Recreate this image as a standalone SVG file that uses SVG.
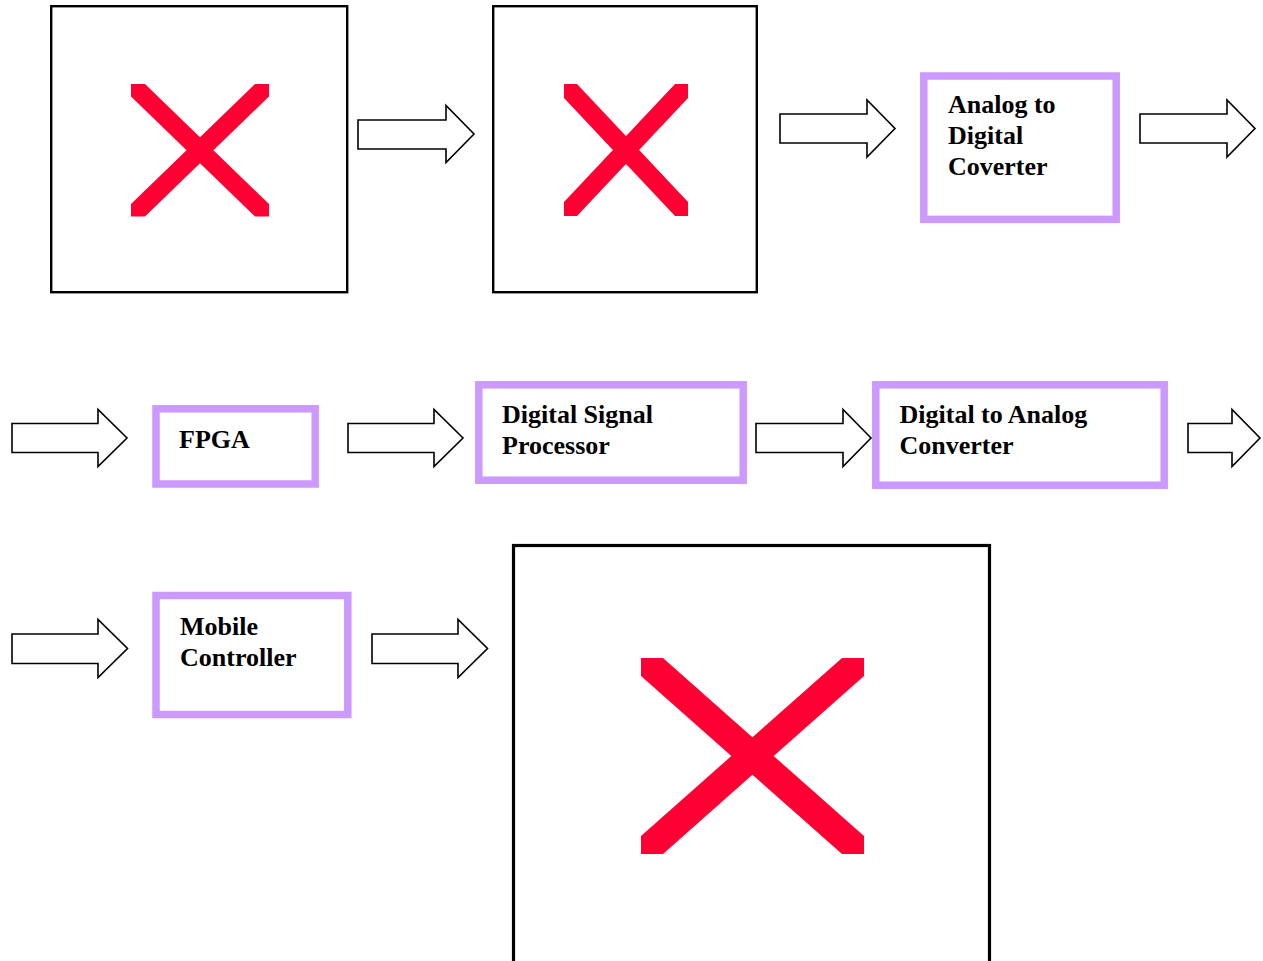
<svg xmlns="http://www.w3.org/2000/svg" width="1263" height="961" viewBox="0 0 1263 961">
<style>
  .img { fill: #ffffff; stroke: #000000; }
  .x { fill: #FF0033; }
  .blk { fill: #ffffff; stroke: #CC99FF; stroke-width: 7.5; }
  .lbl { font-family: "Liberation Serif", "Times New Roman", serif; font-weight: bold; font-size: 26px; fill: #000000; }
  .arr { fill: #ffffff; stroke: #000000; stroke-width: 1.6; stroke-linejoin: miter; }
</style>
<rect width="1263" height="961" fill="#ffffff"/>

<g id="image1">
  <rect class="img" x="51.2" y="6.2" width="296" height="286" stroke-width="2.4"/>
  <polygon class="x" points="131,84 145,84 269,204 269,216.5 255,216.5 131,96.5"/>
  <polygon class="x" points="269,84 269,96.5 145,216.5 131,216.5 131,204 255,84"/>
</g>

<g id="image2">
  <rect class="img" x="493.2" y="6.2" width="263.6" height="286" stroke-width="2.4"/>
  <polygon class="x" points="564,84 577,84 688,202 688,216 675,216 564,98"/>
  <polygon class="x" points="688,84 688,98 577,216 564,216 564,202 675,84"/>
</g>

<g id="adc">
  <rect class="blk" x="923.8" y="76" width="192.4" height="143.4"/>
  <text class="lbl" x="948" y="112.5">Analog to</text>
  <text class="lbl" x="948" y="143.5">Digital</text>
  <text class="lbl" x="948" y="174.5">Coverter</text>
</g>

<g id="fpga">
  <rect class="blk" x="156" y="408.8" width="159.2" height="75.2"/>
  <text class="lbl" x="179" y="448.3">FPGA</text>
</g>

<g id="dsp">
  <rect class="blk" x="478.8" y="384.8" width="264.4" height="95.4"/>
  <text class="lbl" x="502" y="422.5">Digital Signal</text>
  <text class="lbl" x="502" y="453.5">Processor</text>
</g>

<g id="dac">
  <rect class="blk" x="875.8" y="384.8" width="288.4" height="100.4"/>
  <text class="lbl" x="899.5" y="422.5">Digital to Analog</text>
  <text class="lbl" x="899.5" y="453.5">Converter</text>
</g>

<g id="mobile">
  <rect class="blk" x="156" y="595.5" width="191.8" height="119"/>
  <text class="lbl" x="180" y="634.5">Mobile</text>
  <text class="lbl" x="180" y="665.5">Controller</text>
</g>

<g id="image3">
  <rect class="img" x="513.5" y="545.5" width="476" height="430" stroke-width="3.2"/>
  <polygon class="x" points="641,658 663,658 864,836 864,854 842,854 641,676"/>
  <polygon class="x" points="864,658 864,676 663,854 641,854 641,836 842,658"/>
</g>

<g id="connectors">
  <polygon class="arr" points="358,120 446,120 446,105.5 474,134 446,162.5 446,149 358,149"/>
  <polygon class="arr" points="780,114 867,114 867,100 895,128.5 867,157 867,143 780,143"/>
  <polygon class="arr" points="1140,114 1227,114 1227,100 1255,128.5 1227,157 1227,143 1140,143"/>
  <polygon class="arr" points="12,423.5 98,423.5 98,409.5 127,438 98,466.5 98,452.5 12,452.5"/>
  <polygon class="arr" points="348,423.5 434,423.5 434,409.5 463,438 434,466.5 434,452.5 348,452.5"/>
  <polygon class="arr" points="756,423.5 843,423.5 843,409.5 871,438 843,466.5 843,452.5 756,452.5"/>
  <polygon class="arr" points="1188,423.5 1232,423.5 1232,409.5 1260,438 1232,466.5 1232,452.5 1188,452.5"/>
  <polygon class="arr" points="12,634 98,634 98,619.5 127.5,648.5 98,677.5 98,663.5 12,663.5"/>
  <polygon class="arr" points="372,634 458,634 458,619.5 487.5,648.5 458,677.5 458,663.5 372,663.5"/>
</g>
</svg>
